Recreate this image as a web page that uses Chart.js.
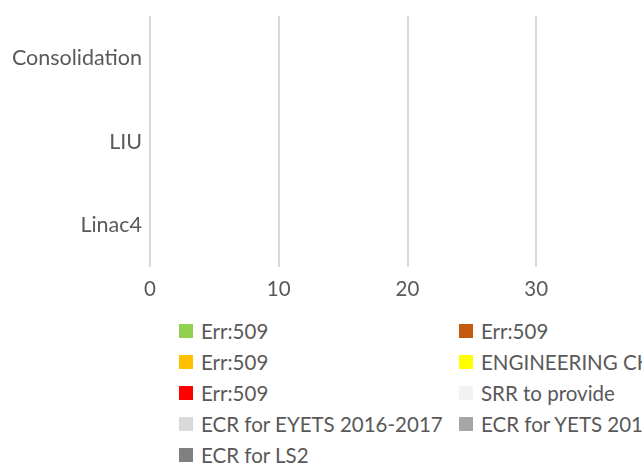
<!DOCTYPE html>
<html>
<head>
<meta charset="utf-8">
<script src="https://cdn.jsdelivr.net/npm/chart.js@4/dist/chart.umd.min.js"></script>
<style>
  html, body { margin: 0; padding: 0; background: #fff; overflow: hidden; }
  #wrap { position: relative; width: 700px; height: 468px; }
  #chart-box { position: absolute; left: 0; top: 0; width: 700px; height: 312px; }
  #legend {
    position: absolute; left: 179px; top: 316px;
    display: grid; grid-template-columns: 280px 280px; row-gap: 0;
    font-family: Lato, sans-serif; font-size: 20.5px; color: #595959;
  }
  #legend .item { display: flex; align-items: center; height: 30.8px; white-space: nowrap; }
  #legend .swatch { width: 14px; height: 14px; margin-right: 8px; flex: none; }
</style>
</head>
<body>
<div id="wrap">
  <div id="chart-box"><canvas id="chart"></canvas></div>
  <div id="legend"></div>
</div>
<script>
// categories (top to bottom)
const categories = ['Consolidation', 'LIU', 'Linac4']

// series names and colours, in legend order
const seriesNames = [
  'Err:509',
  'Err:509',
  'Err:509',
  'ENGINEERING CHANGE',
  'Err:509',
  'SRR to provide',
  'ECR for EYETS 2016-2017',
  'ECR for YETS 2017-2018',
  'ECR for LS2'
]
const seriesColors = [
  '#92d050', '#c55a11', '#ffc000', '#ffff00', '#ff0000',
  '#f2f2f2', '#d9d9d9', '#a6a6a6', '#808080'
]

// every series is empty in the picture: no bars are drawn
const seriesValues = [
  [0, 0, 0], [0, 0, 0], [0, 0, 0], [0, 0, 0], [0, 0, 0],
  [0, 0, 0], [0, 0, 0], [0, 0, 0], [0, 0, 0]
]

const xTicks = [0, 10, 20, 30, 40]

const datasets = seriesNames.map((name, i) => ({
  label: name,
  data: seriesValues[i],
  backgroundColor: seriesColors[i],
  borderWidth: 0
}))

const textColor = '#595959'
const gridColor = '#d9d9d9'

const chart = new Chart(document.getElementById('chart'), {
  type: 'bar',
  data: { labels: categories, datasets },
  options: {
    indexAxis: 'y',
    responsive: true,
    maintainAspectRatio: false,
    animation: false,
    layout: { padding: { top: 16, right: 35, bottom: 0, left: 0 } },
    plugins: {
      legend: { display: false },
      tooltip: { enabled: false }
    },
    scales: {
      x: {
        stacked: true,
        min: xTicks[0],
        max: xTicks[xTicks.length - 1],
        afterBuildTicks: (scale) => { scale.ticks = xTicks.map(v => ({ value: v })) },
        border: { display: false },
        grid: { color: gridColor, lineWidth: 2, drawTicks: false },
        ticks: { color: textColor, padding: 10, font: { family: 'Lato', size: 20.5 } }
      },
      y: {
        stacked: true,
        afterFit: (scale) => {
          scale.width = 150
          // labels sit in the band centres, so no extra room above/below
          scale.paddingTop = 0
          scale.paddingBottom = 0
        },
        border: { display: false },
        grid: { display: false, drawTicks: false },
        ticks: { color: textColor, padding: 8, font: { family: 'Lato', size: 21.5 } }
      }
    }
  }
})

// legend in two columns, built from the chart's datasets
const legendEl = document.getElementById('legend')
chart.data.datasets.forEach(ds => {
  const item = document.createElement('div')
  item.className = 'item'
  const sw = document.createElement('span')
  sw.className = 'swatch'
  sw.style.background = ds.backgroundColor
  const txt = document.createElement('span')
  txt.textContent = ds.label
  item.appendChild(sw)
  item.appendChild(txt)
  legendEl.appendChild(item)
})
</script>
</body>
</html>
